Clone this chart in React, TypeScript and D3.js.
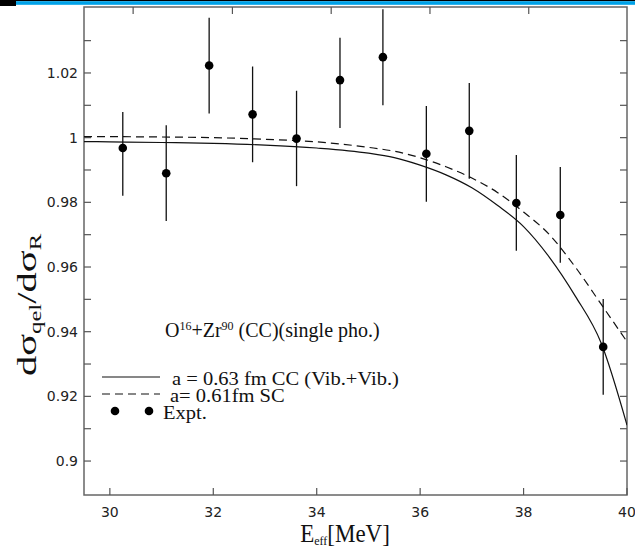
import React from "react";
import * as d3 from "d3";

const W = 635, H = 550;

// Experimental data
const expX = [30.25, 31.09, 31.92, 32.76, 33.61, 34.45, 35.28, 36.12, 36.95, 37.86, 38.71, 39.54];
const expY = [0.9968, 0.989, 1.0223, 1.0072, 0.9997, 1.0178, 1.0249, 0.995, 1.0021, 0.9798, 0.9761, 0.9353];
const expLo = [0.982, 0.9742, 1.0075, 0.9924, 0.985, 1.003, 1.010, 0.9802, 0.9873, 0.965, 0.9613, 0.9205];
const expHi = [1.0079, 1.0038, 1.0371, 1.022, 1.0145, 1.0309, 1.0397, 1.0098, 1.0169, 0.9946, 0.9909, 0.9501];

// Theory curves
const curveX = [29.5, 30, 31, 32, 33, 34, 35, 35.5, 36, 36.5, 37, 37.5, 38, 38.5, 39, 39.5, 40];
const solidY = [0.9988, 0.9987, 0.9985, 0.9982, 0.9977, 0.9968, 0.9952, 0.9938, 0.9915, 0.9885, 0.9845, 0.979, 0.9725, 0.963, 0.951, 0.9365, 0.9111];
const dashedY = [1.0003, 1.0003, 1.0002, 1.0, 0.9995, 0.9987, 0.997, 0.9958, 0.9938, 0.991, 0.9875, 0.983, 0.977, 0.97, 0.96, 0.9485, 0.9369];

const xTicks = [30, 32, 34, 36, 38, 40];
const topTicks = [30.45, 32.37, 34.28, 36.19, 38.1];
const yTicks = [0.9, 0.92, 0.94, 0.96, 0.98, 1, 1.02];
const yMinor = [0.91, 0.93, 0.95, 0.97, 0.99, 1.01, 1.03];

const L = 84, R = 627, T = 7, B = 495;

export default function App() {
  const x = d3.scaleLinear().domain([29.5, 40]).range([L, R]);
  const y = d3.scaleLinear().domain([0.8895, 1.0404]).range([B, T]);
  const line = d3.line<number>().x((_, i) => x(curveX[i])).y((d) => y(d)).curve(d3.curveMonotoneX);
  const tickColor = "#555";
  const tl = 7;
  const serif = "Liberation Serif";
  return (
    <svg width={W} height={H} style={{ position: "absolute", left: 0, top: 0, background: "#fff" }}>
      <rect x={0} y={0} width={W} height={1.2} fill="#000" />
      <rect x={0} y={1.2} width={W} height={3.6} fill="#00a2e8" />
      <rect x={0} y={0} width={16} height={6} fill="#000" />
      <defs>
        <clipPath id="clip"><rect x={L} y={T} width={R - L} height={B - T} /></clipPath>
      </defs>
      <rect x={L} y={T} width={R - L} height={B - T} fill="none" stroke="#666" strokeWidth={1.5} />
      {xTicks.map((t) => (
        <g key={"xt" + t}>
          <line x1={x(t)} x2={x(t)} y1={B} y2={B - tl} stroke={tickColor} strokeWidth={1.2} />
          <text x={x(t)} y={B + 22} textAnchor="middle" fontFamily="DejaVu Sans" fontSize={14} fill="#222">{t}</text>
        </g>
      ))}
      {topTicks.map((t) => (
        <line key={"tt" + t} x1={x(t)} x2={x(t)} y1={T} y2={T + tl} stroke={tickColor} strokeWidth={1.2} />
      ))}
      {yTicks.map((t) => (
        <g key={"yt" + t}>
          <line x1={L} x2={L + tl} y1={y(t)} y2={y(t)} stroke={tickColor} strokeWidth={1.2} />
          <line x1={R} x2={R - tl} y1={y(t)} y2={y(t)} stroke={tickColor} strokeWidth={1.2} />
          <text x={78} y={y(t) + 5} textAnchor="end" fontFamily="DejaVu Sans" fontSize={14} fill="#222">{t}</text>
        </g>
      ))}
      {yMinor.map((t) => (
        <g key={"ym" + t}>
          <line x1={L} x2={L + tl} y1={y(t)} y2={y(t)} stroke={tickColor} strokeWidth={1.2} />
          <line x1={R} x2={R - tl} y1={y(t)} y2={y(t)} stroke={tickColor} strokeWidth={1.2} />
        </g>
      ))}
      <g clipPath="url(#clip)">
        <path d={line(solidY) || ""} fill="none" stroke="#111" strokeWidth={1.2} />
        <path d={line(dashedY) || ""} fill="none" stroke="#111" strokeWidth={1.2} strokeDasharray="8,5" />
        {expX.map((v, i) => (
          <g key={"e" + i}>
            <line x1={x(v)} x2={x(v)} y1={y(expLo[i])} y2={y(expHi[i])} stroke="#111" strokeWidth={1.3} />
            <circle cx={x(v)} cy={y(expY[i])} r={4.3} fill="#000" />
          </g>
        ))}
      </g>
      {/* legend */}
      <text x={165} y={337} fontFamily={serif} fontSize={20} fill="#111">
        O<tspan fontSize={12} dy={-7}>16</tspan><tspan dy={7}>+Zr</tspan><tspan fontSize={12} dy={-7}>90</tspan><tspan dy={7}> (CC)(single pho.)</tspan>
      </text>
      <line x1={102} x2={160} y1={377} y2={377} stroke="#111" strokeWidth={1.2} />
      <text transform="translate(172,385) scale(1.08,1)" fontFamily={serif} fontSize={19} fill="#111">a = 0.63 fm CC (Vib.+Vib.)</text>
      <line x1={102} x2={160} y1={394} y2={394} stroke="#111" strokeWidth={1.2} strokeDasharray="8,5" />
      <text transform="translate(170,402) scale(1.08,1)" fontFamily={serif} fontSize={19} fill="#111">a= 0.61fm SC</text>
      <circle cx={115} cy={411} r={4.3} fill="#000" />
      <circle cx={149} cy={411} r={4.3} fill="#000" />
      <text transform="translate(163,419) scale(1.08,1)" fontFamily={serif} fontSize={19} fill="#111">Expt.</text>
      {/* axis titles */}
      <text transform={`translate(36,305) rotate(-90) scale(1.45,1)`} textAnchor="middle" fontFamily={serif} fontSize={28} fill="#111">
        dσ<tspan fontSize={17} dy={5}>qel</tspan><tspan dy={-5}>/dσ</tspan><tspan fontSize={17} dy={5}>R</tspan>
      </text>
      <text transform="translate(345,542) scale(1,1.08)" textAnchor="middle" fontFamily={serif} fontSize={23} fill="#111">
        E<tspan fontSize={12} dy={3}>eff</tspan><tspan dy={-3}>[MeV]</tspan>
      </text>
    </svg>
  );
}
